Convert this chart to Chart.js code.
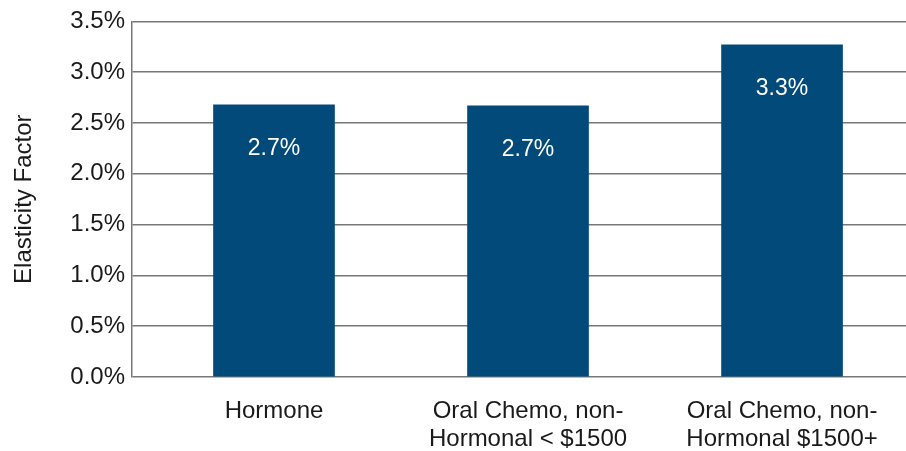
<!DOCTYPE html>
<html lang="en">
<head>
    <meta charset="UTF-8">
    <title>Elasticity Factor</title>
    <script src="https://cdn.jsdelivr.net/npm/chart.js"></script>
    <style>
        html, body {
            margin: 0;
            padding: 0;
            background: #ffffff;
        }
        .chart-box {
            width: 906px;
            height: 451px;
            position: relative;
        }
    </style>
</head>
<body>
    <div class="chart-box">
        <canvas id="elasticityChart"></canvas>
    </div>

    <script>
        const categories = [
            ['Hormone'],
            ['Oral Chemo, non-', 'Hormonal < $1500'],
            ['Oral Chemo, non-', 'Hormonal $1500+']
        ];
        const elasticity = [2.68, 2.67, 3.27];
        const yTicks = [0, 0.5, 1, 1.5, 2, 2.5, 3, 3.5];

        const FONT = '"Liberation Sans", Arial, Helvetica, sans-serif';
        const BAR_BLUE = '#024a79';
        const GRID_GREY = '#777777';

        // white value labels drawn inside each bar
        const barLabels = {
            id: 'barLabels',
            afterDatasetsDraw(chart) {
                const ctx = chart.ctx;
                const meta = chart.getDatasetMeta(0);
                ctx.save();
                ctx.fillStyle = '#ffffff';
                ctx.font = '23px ' + FONT;
                ctx.textAlign = 'center';
                ctx.textBaseline = 'middle';
                meta.data.forEach((bar, i) => {
                    ctx.fillText(elasticity[i].toFixed(1) + '%', bar.x, bar.y + 44);
                });
                ctx.restore();
            }
        };

        const points = elasticity.map((v, i) => ({ x: i, y: v }));

        new Chart(document.getElementById('elasticityChart'), {
            type: 'bar',
            data: {
                datasets: [{
                    data: points,
                    backgroundColor: BAR_BLUE,
                    borderWidth: 0,
                    barThickness: 121
                }]
            },
            options: {
                responsive: true,
                maintainAspectRatio: false,
                animation: false,
                layout: { padding: { top: 20, right: 0, bottom: 0, left: 0 } },
                plugins: {
                    legend: { display: false },
                    tooltip: { enabled: false }
                },
                scales: {
                    x: {
                        type: 'linear',
                        offset: false,
                        min: -0.559,
                        max: 2.488,
                        grid: { display: false, drawTicks: false, offset: false },
                        border: { display: false },
                        afterFit(scale) { scale.height = 74; },
                        afterBuildTicks(scale) {
                            scale.ticks = categories.map((c, i) => ({ value: i }));
                        },
                        ticks: {
                            autoSkip: false,
                            maxRotation: 0,
                            padding: 21,
                            color: '#1a1a1a',
                            font: { family: FONT, size: 24, lineHeight: 1.15 },
                            callback: (v) => categories[v] || ''
                        }
                    },
                    y: {
                        min: 0,
                        max: 3.5,
                        afterFit(scale) { scale.width = 132; },
                        afterBuildTicks(scale) {
                            scale.ticks = yTicks.map(v => ({ value: v }));
                        },
                        grid: {
                            color: GRID_GREY,
                            lineWidth: 1.5,
                            drawTicks: false
                        },
                        border: { display: true, color: GRID_GREY, width: 1.5 },
                        title: {
                            display: true,
                            text: 'Elasticity Factor',
                            color: '#1a1a1a',
                            font: { family: FONT, size: 24 },
                            padding: { top: 10, bottom: 0 }
                        },
                        ticks: {
                            padding: 7,
                            color: '#1a1a1a',
                            font: { family: FONT, size: 24 },
                            callback: (v) => v.toFixed(1) + '%'
                        }
                    }
                }
            },
            plugins: [barLabels]
        });
    </script>
</body>
</html>
